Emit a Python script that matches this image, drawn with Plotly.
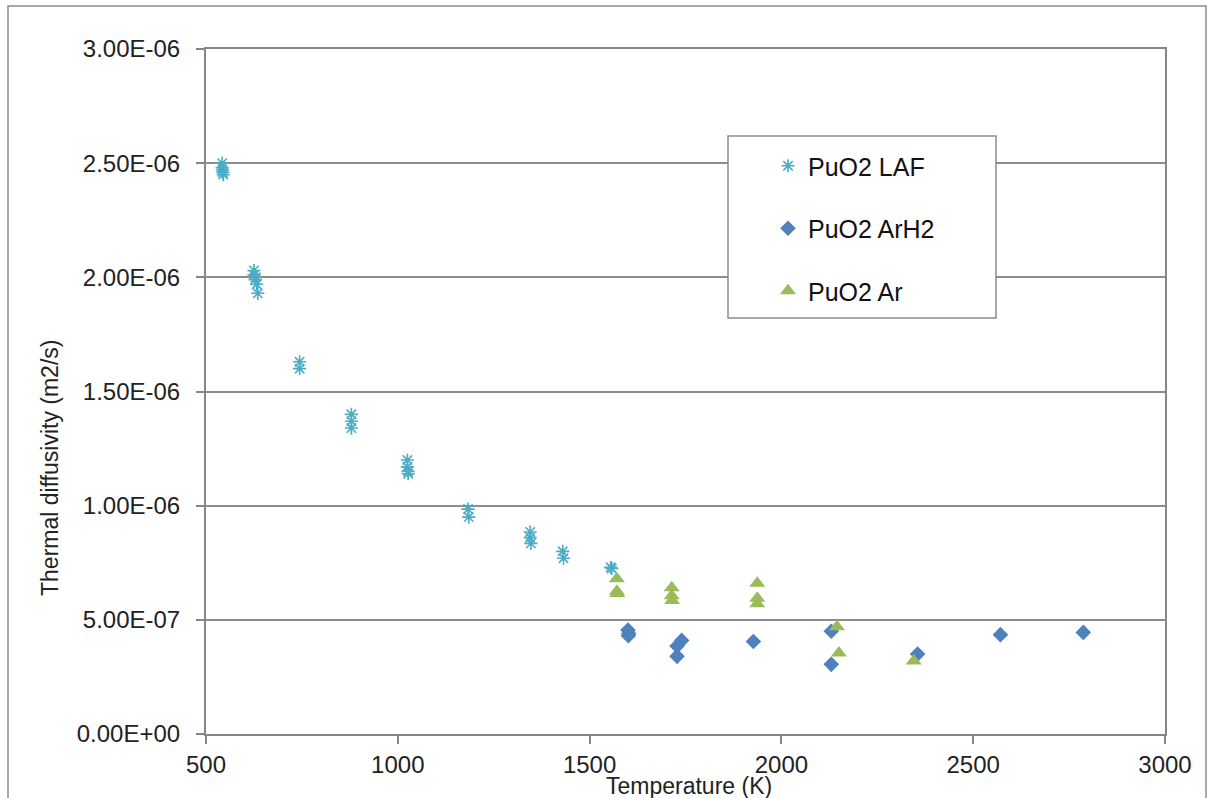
import plotly.graph_objects as go

# ---- data ----
laf_T = [542, 542, 543, 544, 545,
         625, 625, 628, 630, 632, 635,
         744, 744,
         879, 879, 879,
         1025, 1025, 1027, 1027,
         1183, 1185,
         1345, 1345, 1347,
         1430, 1432,
         1555, 1558]
laf_D = [2.50e-6, 2.48e-6, 2.47e-6, 2.46e-6, 2.45e-6,
         2.03e-6, 2.01e-6, 1.99e-6, 2.00e-6, 1.97e-6, 1.93e-6,
         1.63e-6, 1.60e-6,
         1.40e-6, 1.37e-6, 1.34e-6,
         1.20e-6, 1.17e-6, 1.15e-6, 1.14e-6,
         0.985e-6, 0.95e-6,
         0.885e-6, 0.86e-6, 0.835e-6,
         0.80e-6, 0.77e-6,
         0.73e-6, 0.725e-6]

arh2_T = [1600, 1602, 1601, 1740, 1728, 1728, 1927, 2130, 2130, 2355, 2571, 2787]
arh2_D = [4.55e-7, 4.4e-7, 4.3e-7, 4.1e-7, 3.85e-7, 3.4e-7, 4.05e-7, 4.5e-7, 3.05e-7, 3.5e-7, 4.35e-7, 4.45e-7]

ar_T = [1571, 1571, 1572, 1714, 1714, 1715, 1937, 1937, 1937, 2145, 2150, 2345]
ar_D = [6.8e-7, 6.25e-7, 6.15e-7, 6.4e-7, 6.05e-7, 5.85e-7, 6.6e-7, 5.95e-7, 5.7e-7, 4.7e-7, 3.55e-7, 3.2e-7]

y_tickvals = [0, 5e-7, 1e-6, 1.5e-6, 2e-6, 2.5e-6, 3e-6]
y_ticktext = ["0.00E+00", "5.00E-07", "1.00E-06", "1.50E-06", "2.00E-06", "2.50E-06", "3.00E-06"]
x_tickvals = [500, 1000, 1500, 2000, 2500, 3000]

series_names = ["PuO2 LAF", "PuO2 ArH2", "PuO2 Ar"]
colors = ["#4BACC6", "#4F81BD", "#9BBB59"]

FONT = "Liberation Sans, Arial, sans-serif"

fig = go.Figure()
fig.add_trace(go.Scatter(
    x=laf_T, y=laf_D, mode="markers", name=series_names[0],
    marker=dict(symbol="asterisk-open", size=11, color=colors[0],
                line=dict(color=colors[0], width=1.6)),
    legendgroup="a"))
fig.add_trace(go.Scatter(
    x=arh2_T, y=arh2_D, mode="markers", name=series_names[1],
    marker=dict(symbol="diamond", size=12, color=colors[1]),
    legendgroup="b"))
fig.add_trace(go.Scatter(
    x=ar_T, y=ar_D, mode="markers", name=series_names[2],
    marker=dict(symbol="triangle-up", size=14, color=colors[2]),
    legendgroup="c"))

W, H = 1214, 798
L, R, T, B = 206, 49, 49, 64
pw = W - L - R
ph = H - T - B

def px_x(p):
    return (p - L) / pw

def px_y(p):
    return (H - B - p) / ph

fig.update_layout(
    width=W, height=H,
    margin=dict(l=L, r=R, t=T, b=B),
    paper_bgcolor="white", plot_bgcolor="white",
    font=dict(family=FONT, size=24, color="#222222"),
    showlegend=True,
    legend=dict(
        x=px_x(768), y=px_y(143), xanchor="left", yanchor="top",
        bgcolor="rgba(0,0,0,0)", borderwidth=0,
        font=dict(family=FONT, size=25, color="#111111"),
        traceorder="grouped", tracegroupgap=27, itemwidth=30,
    ),
    xaxis=dict(
        range=[500, 3000], tickvals=x_tickvals,
        showgrid=False, zeroline=False,
        showline=True, linecolor="#868686", linewidth=2, mirror=True,
        ticks="outside", ticklen=8, tickcolor="#868686", tickwidth=1.5,
        ticklabelstandoff=0,
        tickfont=dict(family=FONT, size=24, color="#222222"),
    ),
    yaxis=dict(
        range=[0, 3e-6], tickvals=y_tickvals, ticktext=y_ticktext,
        showgrid=True, gridcolor="#8c8c8c", gridwidth=1.5, zeroline=False,
        showline=True, linecolor="#868686", linewidth=2, mirror=True,
        ticks="outside", ticklen=8, tickcolor="#868686", tickwidth=1.5,
        ticklabelstandoff=11,
        tickfont=dict(family=FONT, size=24, color="#222222"),
    ),
    shapes=[
        dict(type="rect", xref="paper", yref="paper",
             x0=px_x(728), x1=px_x(996), y0=px_y(318), y1=px_y(136),
             line=dict(color="#8c8c8c", width=1.5), fillcolor="white", layer="above"),
        dict(type="rect", xref="paper", yref="paper",
             x0=px_x(8), x1=px_x(1206), y0=px_y(830), y1=px_y(6),
             line=dict(color="#8c8c8c", width=1.5), fillcolor="rgba(0,0,0,0)", layer="below"),
    ],
    annotations=[
        dict(text="Temperature (K)", xref="paper", yref="paper",
             x=px_x(689), y=px_y(786), xanchor="center", yanchor="middle",
             showarrow=False, font=dict(family=FONT, size=23, color="#222222")),
        dict(text="Thermal diffusivity (m2/s)", xref="paper", yref="paper",
             x=px_x(50), y=px_y(468), xanchor="center", yanchor="middle",
             textangle=-90, showarrow=False,
             font=dict(family=FONT, size=23, color="#222222")),
    ],
)

fig.write_html("out.html")
